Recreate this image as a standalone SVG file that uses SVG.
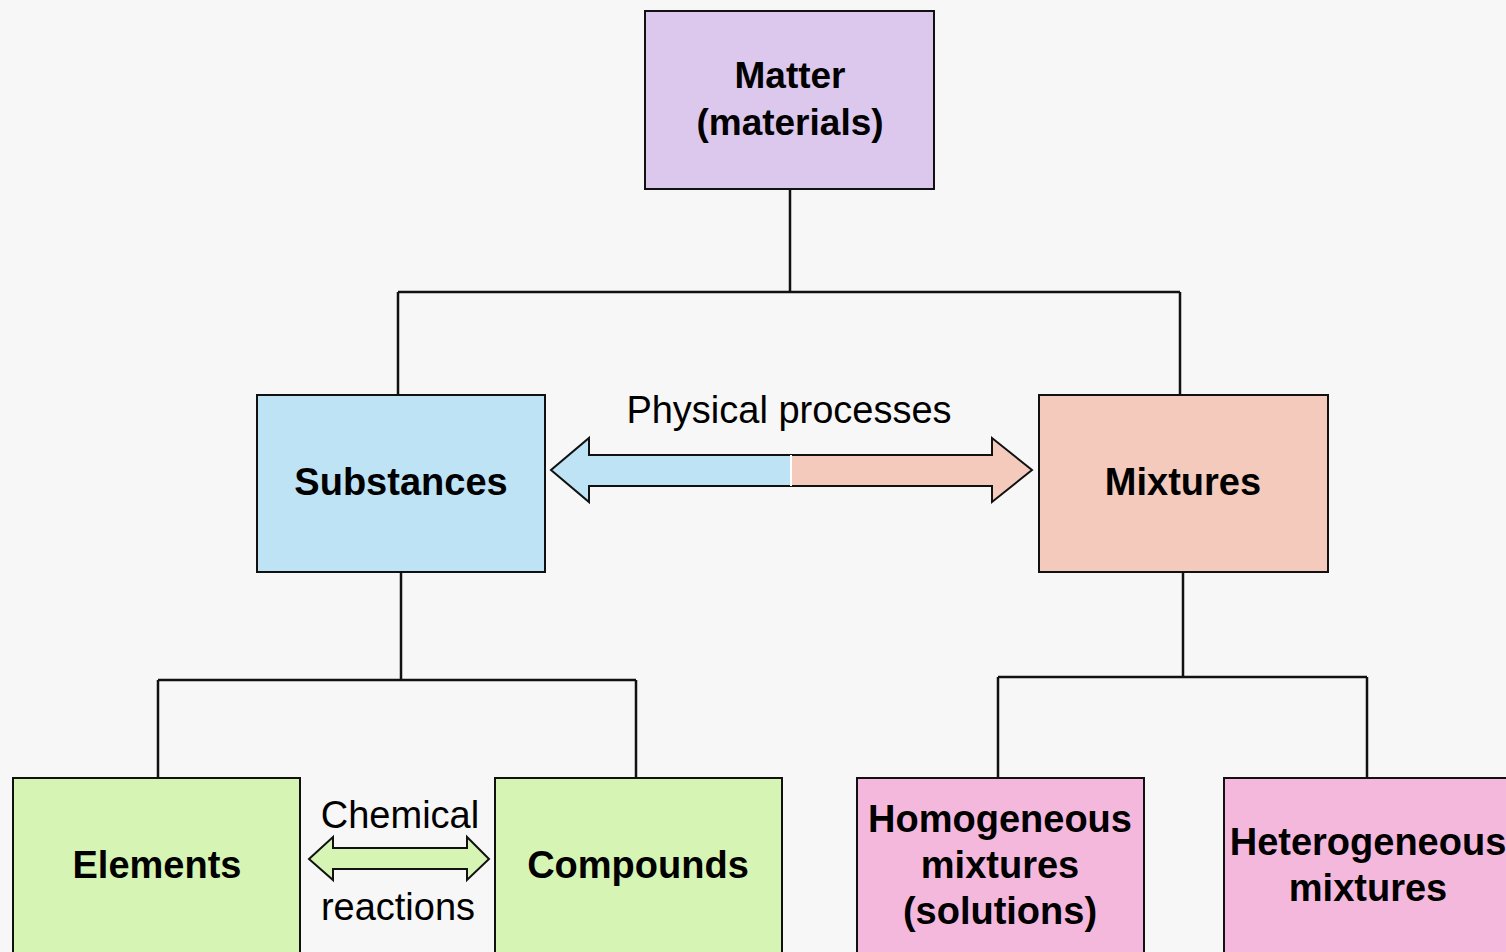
<svg xmlns="http://www.w3.org/2000/svg" width="1506" height="952" viewBox="0 0 1506 952">
<style>
.box{stroke:#111;stroke-width:2}
.line{fill:none;stroke:#111;stroke-width:2.5}
.b{font-family:"Liberation Sans",Arial,sans-serif;font-weight:bold;font-size:37px;fill:#000;text-anchor:middle}
.b38{font-size:38px}
.r{font-family:"Liberation Sans",Arial,sans-serif;font-size:38px;fill:#000;text-anchor:middle}
.arr{stroke:#111;stroke-width:2;stroke-linejoin:miter}
</style>
<rect width="1506" height="952" fill="#f7f7f7"/>
<g id="connectors">
<path class="line" d="M790 189V292M398 292H1180M398 292V395M1180 292V395"/>
<path class="line" d="M401 572V680M158 680H636M158 680V778M636 680V778"/>
<path class="line" d="M1183 572V677M998 677H1367M998 677V778M1367 677V778"/>
</g>
<g id="physical-processes">
<path d="M791 455H589V438L551 470L589 502V486H791Z" fill="#bde3f5"/>
<path d="M791 455H992V438L1032 470L992 502V486H791Z" fill="#f3cabb"/>
<path class="arr" fill="none" d="M791 455H589V438L551 470L589 502V486H791M791 455H992V438L1032 470L992 502V486H791"/>
<line x1="791" y1="455" x2="791" y2="486" stroke="#fff" stroke-width="2"/>
<text class="r" x="789" y="423">Physical processes</text>
</g>
<g id="chemical-reactions">
<path class="arr" fill="#d6f5b4" d="M333 848H467V837L489 859L467 880V869H333V880L309 859L333 837Z"/>
<text class="r" x="400" y="828">Chemical</text>
<text class="r" x="398" y="920">reactions</text>
</g>
<g id="matter">
<rect class="box" x="645" y="11" width="289" height="178" fill="#dcc8ec"/>
<text class="b" x="790" y="88">Matter</text>
<text class="b" x="790" y="135">(materials)</text>
</g>
<g id="substances">
<rect class="box" x="257" y="395" width="288" height="177" fill="#bde3f5"/>
<text class="b b38" x="401" y="495">Substances</text>
</g>
<g id="mixtures">
<rect class="box" x="1039" y="395" width="289" height="177" fill="#f3cabb"/>
<text class="b b38" x="1183" y="495">Mixtures</text>
</g>
<g id="elements">
<rect class="box" x="13" y="778" width="287" height="180" fill="#d6f5b4"/>
<text class="b b38" x="157" y="878">Elements</text>
</g>
<g id="compounds">
<rect class="box" x="495" y="778" width="287" height="180" fill="#d6f5b4"/>
<text class="b b38" x="638" y="878">Compounds</text>
</g>
<g id="homogeneous">
<rect class="box" x="857" y="778" width="287" height="180" fill="#f4b8dc"/>
<text class="b b38" x="1000" y="832">Homogeneous</text>
<text class="b b38" x="1000" y="878">mixtures</text>
<text class="b b38" x="1000" y="924">(solutions)</text>
</g>
<g id="heterogeneous">
<rect class="box" x="1224" y="778" width="290" height="180" fill="#f4b8dc"/>
<text class="b b38" x="1368" y="855">Heterogeneous</text>
<text class="b b38" x="1368" y="901">mixtures</text>
</g>
</svg>
